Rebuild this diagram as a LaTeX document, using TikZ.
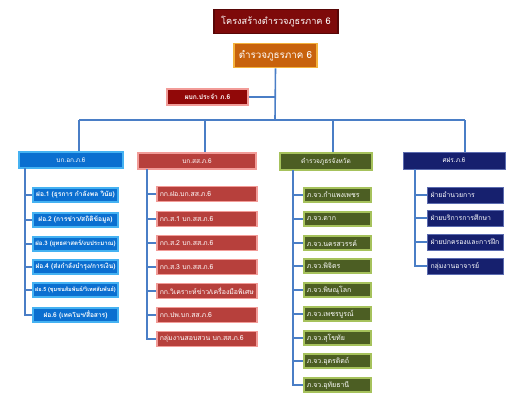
\documentclass[tikz,border=0pt]{standalone}
\usepackage{fontspec}
\newfontfamily\thaifont[Script=Thai]{Loma}
\usetikzlibrary{calc}
\definecolor{titlered}{HTML}{7E0A0A}
\definecolor{orangefill}{HTML}{C8620C}
\definecolor{orangeline}{HTML}{F4B23C}
\definecolor{bluefill}{HTML}{0B6FD0}
\definecolor{blueline}{HTML}{45B2F2}
\definecolor{redfill}{HTML}{B7403C}
\definecolor{redline}{HTML}{F29C98}
\definecolor{greenfill}{HTML}{4C5E23}
\definecolor{greenline}{HTML}{A6C25C}
\definecolor{navyfill}{HTML}{16206E}
\definecolor{navyline}{HTML}{5C6CB0}
\definecolor{conn}{HTML}{4A7EC6}
\begin{document}
\begin{tikzpicture}[x=1pt,y=-1pt,
  box/.style={draw, line width=1.6pt, inner sep=0pt, align=center, text=white, font=\thaifont\fontsize{6.5}{7.5}\selectfont},
  bluebox/.style={box, fill=bluefill, draw=blueline},
  redbox/.style={box, fill=redfill, draw=redline},
  greenbox/.style={box, fill=greenfill, draw=greenline},
  navybox/.style={box, fill=navyfill, draw=navyline, line width=1pt},
  conline/.style={draw=conn, line width=1.6pt},
  bitem/.style={bluebox, minimum width=85pt, minimum height=14pt, font=\thaifont\bfseries\fontsize{6.6}{7.5}\selectfont},
  ritem/.style={redbox, minimum width=100pt, minimum height=15pt, anchor=west, text width=94pt, align=left, font=\thaifont\fontsize{6.9}{8}\selectfont},
  gitem/.style={greenbox, minimum width=67pt, minimum height=14pt, anchor=west, text width=61pt, align=left, font=\thaifont\fontsize{7}{8}\selectfont},
  nitem/.style={navybox, minimum width=76pt, minimum height=16pt, anchor=west, text width=70pt, align=left, font=\thaifont\fontsize{6.9}{8}\selectfont}
]
\useasboundingbox (0,0) rectangle (522,407);

% top
\node[box, fill=titlered, draw=titlered!70!black, line width=1.2pt, minimum width=124pt, minimum height=24pt, font=\thaifont\fontsize{9.2}{10}\selectfont] (title) at (276,21.5) {โครงสร้างตำรวจภูธรภาค 6};
\node[box, fill=orangefill, draw=orangeline, minimum width=83pt, minimum height=24pt, font=\thaifont\fontsize{9.8}{11}\selectfont] (r6) at (275.5,55.5) {ตำรวจภูธรภาค 6};
\node[redbox, fill=titlered!85!red, minimum width=81pt, minimum height=16pt, font=\thaifont\bfseries\fontsize{6.7}{7.5}\selectfont] (pbk) at (207.5,97) {ผบก.ประจำ ภ.6};

% bus
\coordinate (busB) at (79,120);
\coordinate (busR) at (205,120);
\coordinate (busG) at (333,120);
\coordinate (busN) at (465,120);
\coordinate (busM) at (275,120);

% headers
\node[bluebox, minimum width=104pt, minimum height=16pt] (bh) at (71,160) {บก.อก.ภ.6};
\node[redbox, minimum width=118pt, minimum height=16pt] (rh) at (197,161) {บก.สส.ภ.6};
\node[greenbox, minimum width=92pt, minimum height=17pt] (gh) at (326,161.5) {ตำรวจภูธรจังหวัด};
\node[navybox, minimum width=102pt, minimum height=17pt] (nh) at (454,160.5) {ศฝร.ภ.6};

\draw[conline] (r6.south) -- (busM);
\draw[conline] (pbk.east) -- (pbk.east -| busM);
\draw[conline] (busB) -- (busN);
\draw[conline] (busB) -- (busB |- bh.north);
\draw[conline] (busR) -- (busR |- rh.north);
\draw[conline] (busG) -- (busG |- gh.north);
\draw[conline] (busN) -- (busN |- nh.north);

% blue column
\coordinate (bsp) at (25,168);
\node[bitem] (b1) at (75.5,195) {ฝอ.1 (ธุรการ กำลังพล วินัย)};
\node[bitem] (b2) at (75.5,220) {ฝอ.2 (การข่าว/สถิติข้อมูล)};
\node[bitem, font=\thaifont\bfseries\fontsize{6.1}{7}\selectfont] (b3) at (75.5,244) {ฝอ.3 (ยุทธศาสตร์/งบประมาณ)};
\node[bitem] (b4) at (75.5,267) {ฝอ.4 (ส่งกำลังบำรุง/การเงิน)};
\node[bitem, font=\thaifont\bfseries\fontsize{5.5}{6.5}\selectfont] (b5) at (75.5,290) {ฝอ.5 (ชุมชนสัมพันธ์/วิเทศสัมพันธ์)};
\node[bitem] (b6) at (75.5,315) {ฝอ.6 (เทคโนฯ/สื่อสาร)};
\foreach \n in {b1,b2,b3,b4,b5,b6} \draw[conline, line width=1.2pt] (bsp) |- (\n.west);

% red column
\coordinate (rsp) at (147,169);
\node[ritem] (r1) at (156,194) {กก.ฝอ.บก.สส.ภ.6};
\node[ritem] (r2) at (156,219) {กก.ส.1 บก.สส.ภ.6};
\node[ritem] (r3) at (156,243) {กก.ส.2 บก.สส.ภ.6};
\node[ritem] (r4) at (156,267) {กก.ส.3 บก.สส.ภ.6};
\node[ritem] (r5) at (156,291) {กก.วิเคราะห์ข่าว/เครื่องมือพิเศษ};
\node[ritem] (r6i) at (156,315) {กก.ปพ.บก.สส.ภ.6};
\node[ritem] (r7) at (156,339) {กลุ่มงานสอบสวน บก.สส.ภ.6};
\foreach \n in {r1,r2,r3,r4,r5,r6i,r7} \draw[conline] (rsp) |- (\n.west);

% green column
\coordinate (gsp) at (293,170);
\node[gitem] (g1) at (303,195) {ภ.จว.กำแพงเพชร};
\node[gitem] (g2) at (303,219) {ภ.จว.ตาก};
\node[gitem] (g3) at (303,243) {ภ.จว.นครสวรรค์};
\node[gitem] (g4) at (303,266) {ภ.จว.พิจิตร};
\node[gitem] (g5) at (303,290) {ภ.จว.พิษณุโลก};
\node[gitem] (g6) at (303,314) {ภ.จว.เพชรบูรณ์};
\node[gitem] (g7) at (303,338) {ภ.จว.สุโขทัย};
\node[gitem] (g8) at (303,361) {ภ.จว.อุตรดิตถ์};
\node[gitem] (g9) at (303,385) {ภ.จว.อุทัยธานี};
\foreach \n in {g1,g2,g3,g4,g5,g6,g7,g8,g9} \draw[conline] (gsp) |- (\n.west);

% navy column
\coordinate (nsp) at (415,169);
\node[nitem] (n1) at (427,195) {ฝ่ายอำนวยการ};
\node[nitem] (n2) at (427,218) {ฝ่ายบริการการศึกษา};
\node[nitem] (n3) at (427,242) {ฝ่ายปกครองและการฝึก};
\node[nitem] (n4) at (427,266) {กลุ่มงานอาจารย์};
\foreach \n in {n1,n2,n3,n4} \draw[conline] (nsp) |- (\n.west);

\end{tikzpicture}
\end{document}
